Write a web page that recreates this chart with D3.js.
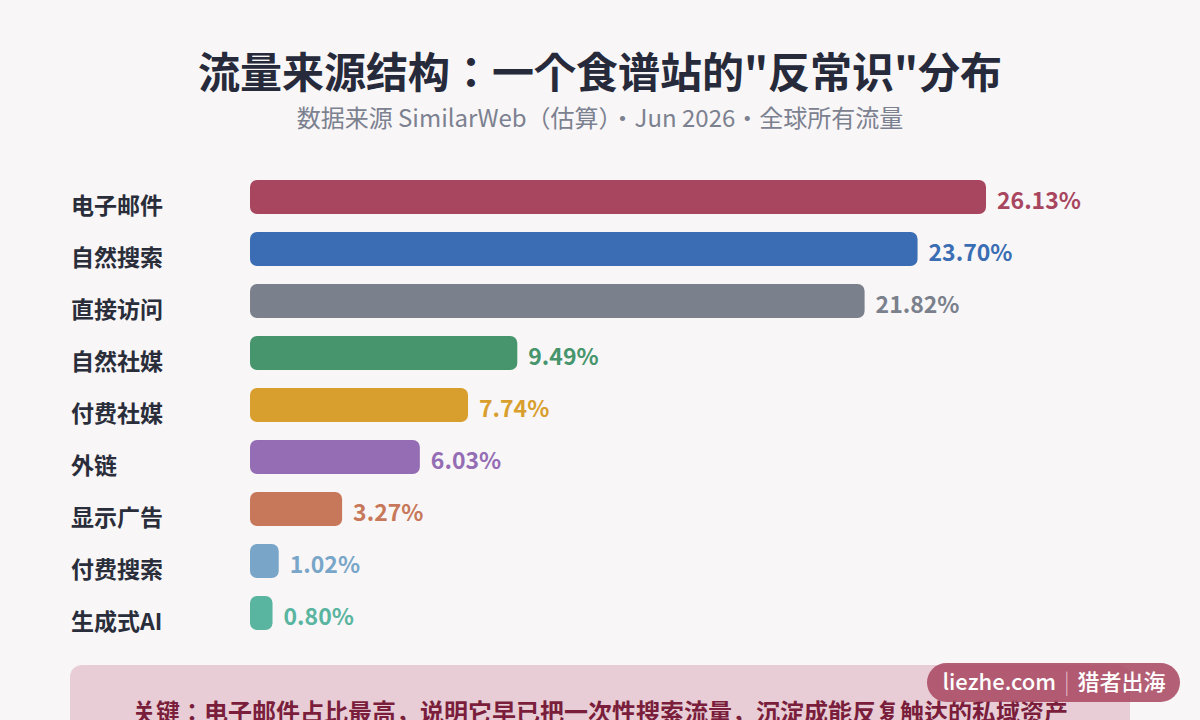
<!DOCTYPE html>
<html>
<head>
<meta charset="utf-8">
<script src="https://cdn.jsdelivr.net/npm/d3@7"></script>
<style>
  html, body { margin: 0; padding: 0; background: #f8f6f7; }
  svg { display: block; font-family: "Noto Sans CJK JP", "Noto Sans CJK SC", "Noto Sans", sans-serif; }
</style>
</head>
<body>
<div id="chart"></div>
<script>
// Data ------------------------------------------------------------------------------------------
const channels = ["电子邮件", "自然搜索", "直接访问", "自然社媒", "付费社媒", "外链", "显示广告", "付费搜索", "生成式AI"];
const shares = [26.13, 23.70, 21.82, 9.49, 7.74, 6.03, 3.27, 1.02, 0.80];
const barColors = ["#a8465f", "#3a6db3", "#7a808c", "#46956c", "#d89f2f", "#946db4", "#c8785a", "#79a6c8", "#5ab5a0"];

const titleText = '流量来源结构：一个食谱站的"反常识"分布';
const subtitleText = "数据来源 SimilarWeb（估算）・Jun 2026・全球所有流量";
const noteText = "关键：电子邮件占比最高，说明它早已把一次性搜索流量，沉淀成能反复触达的私域资产";

// Dimensions ------------------------------------------------------------------------------------
const width = 1200, height = 720;

const svg = d3.select("#chart").append("svg")
  .attr("width", width)
  .attr("height", height);

svg.append("rect").attr("width", width).attr("height", height).attr("fill", "#f8f6f7");

// Title
svg.append("text")
  .attr("x", 600).attr("y", 88)
  .attr("text-anchor", "middle")
  .attr("font-size", 42).attr("font-weight", 700)
  .attr("fill", "#262a3a")
  .text(titleText);

svg.append("text")
  .attr("x", 600).attr("y", 127)
  .attr("text-anchor", "middle")
  .attr("font-size", 24)
  .attr("fill", "#7c8190")
  .text(subtitleText);

// Scales ----------------------------------------------------------------------------------------
const x = d3.scaleLinear()
  .domain([0, d3.max(shares)])
  .range([250, 986]);

// 52px step, 34px bars
const y = d3.scaleBand()
  .domain(channels)
  .range([180, 180 + 52 * channels.length - 18])
  .paddingInner(18 / 52)
  .paddingOuter(0);

const color = d3.scaleOrdinal().domain(channels).range(barColors);

const rows = channels.map((c, i) => ({ channel: c, value: shares[i] }));

// Bars
svg.append("g").selectAll("rect")
  .data(rows)
  .join("rect")
  .attr("x", x(0))
  .attr("y", d => y(d.channel))
  .attr("width", d => x(d.value) - x(0))
  .attr("height", y.bandwidth())
  .attr("rx", 7).attr("ry", 7)
  .attr("fill", d => color(d.channel));

// Category labels
svg.append("g").selectAll("text")
  .data(rows)
  .join("text")
  .attr("x", 71)
  .attr("y", d => y(d.channel) + y.bandwidth() / 2 + 17)
  .attr("font-size", 23).attr("font-weight", 700)
  .attr("fill", "#2a2d3a")
  .text(d => d.channel);

// Value labels
svg.append("g").selectAll("text")
  .data(rows)
  .join("text")
  .attr("x", d => x(d.value) + 11)
  .attr("y", d => y(d.channel) + y.bandwidth() / 2 + 12)
  .attr("font-size", 23).attr("font-weight", 700)
  .attr("fill", d => color(d.channel))
  .text(d => d.value.toFixed(2) + "%");

// Note box --------------------------------------------------------------------------------------
svg.append("rect")
  .attr("x", 70).attr("y", 665)
  .attr("width", 1060).attr("height", 90)
  .attr("rx", 12)
  .attr("fill", "#e8cdd6");

svg.append("text")
  .attr("x", 600).attr("y", 721)
  .attr("text-anchor", "middle")
  .attr("font-size", 24).attr("font-weight", 700)
  .attr("fill", "#7a1e3c")
  .text(noteText);

// Watermark
const wm = svg.append("g");
wm.append("rect")
  .attr("x", 927).attr("y", 663)
  .attr("width", 253).attr("height", 39)
  .attr("rx", 19.5)
  .attr("fill", "#a84a63")
  .attr("opacity", 0.88);
const wmText = wm.append("text")
  .attr("x", 1054).attr("y", 690)
  .attr("text-anchor", "middle")
  .attr("font-size", 22).attr("font-weight", 500)
  .attr("fill", "#ffffff");
wmText.append("tspan").text("liezhe.com");
wmText.append("tspan").attr("dx", 8).attr("fill", "#e6b8c5").attr("font-weight", 300).text("|");
wmText.append("tspan").attr("dx", 8).text("猎者出海");
</script>
</body>
</html>
